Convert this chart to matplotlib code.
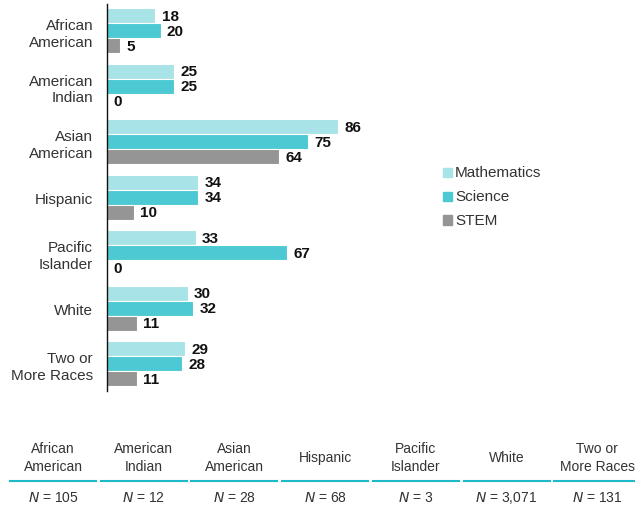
import matplotlib
matplotlib.use("Agg")
import matplotlib.pyplot as plt
from matplotlib.lines import Line2D
from matplotlib.patches import Rectangle

plt.rcParams['font.family'] = ['Liberation Sans', 'DejaVu Sans']

categories = ["African\nAmerican", "American\nIndian", "Asian\nAmerican", "Hispanic",
              "Pacific\nIslander", "White", "Two or\nMore Races"]
mathematics = [18, 25, 86, 34, 33, 30, 29]
science = [20, 25, 75, 34, 67, 32, 28]
stem = [5, 0, 64, 10, 0, 11, 11]
n_values = ["105", "12", "28", "68", "3", "3,071", "131"]
series_names = ["Mathematics", "Science", "STEM"]

colors = ["#a8e4e7", "#4cc9d3", "#959596"]
line_color = "#1cb9c9"
text_color = "#333333"

W, H = 635, 510
fig = plt.figure(figsize=(W / 100, H / 100), dpi=100)
ax = fig.add_axes([107 / W, 118 / H, 268.6 / W, 387 / H])

bh = 0.27
offsets = [-bh, 0, bh]
for s, (vals, col) in enumerate(zip([mathematics, science, stem], colors)):
    for i, v in enumerate(vals):
        y = i + offsets[s]
        ax.barh(y, v, height=bh, color=col, edgecolor="white", linewidth=0.8)
        ax.annotate(str(v), xy=(v, y), xytext=(4.5, 0), textcoords="offset points",
                    ha="left", va="center", fontsize=11, fontweight="bold", color="#111111")

ax.set_xlim(0, 100)
ax.set_ylim(6.49, -0.48)
ax.set_yticks(range(len(categories)))
ax.set_yticklabels(categories, fontsize=11, color=text_color, linespacing=1.25,
                   multialignment="right")
ax.tick_params(axis="y", length=0, pad=10)
ax.set_xticks([])
for sp in ["top", "right", "bottom"]:
    ax.spines[sp].set_visible(False)
ax.spines["left"].set_color("#111111")
ax.spines["left"].set_linewidth(1.0)

# legend
leg_y = [173, 197, 221]
for name, col, ly in zip(series_names, colors, leg_y):
    fig.patches.append(Rectangle((443 / W, (H - ly - 4.5) / H), 9 / W, 9 / H,
                                 transform=fig.transFigure, color=col))
    fig.text(455 / W, (H - ly) / H, name, fontsize=11, color=text_color,
             ha="left", va="center")

# bottom table
period = 90.7
for i, (cat, n) in enumerate(zip(categories, n_values)):
    x0 = 10 + i * period
    x1 = min(x0 + 86, W)
    xc = x0 + 43
    fig.text(xc / W, (H - 458) / H, cat, fontsize=10, color=text_color,
             ha="center", va="center", linespacing=1.35)
    fig.lines.append(Line2D([x0 / W, x1 / W], [(H - 482) / H] * 2,
                            transform=fig.transFigure, color=line_color, linewidth=1.5))
    fig.text(xc / W, (H - 498) / H, r"$\mathit{N}$" + " = " + n, fontsize=10,
             color=text_color, ha="center", va="center")

fig.savefig("out.png", dpi=100)
